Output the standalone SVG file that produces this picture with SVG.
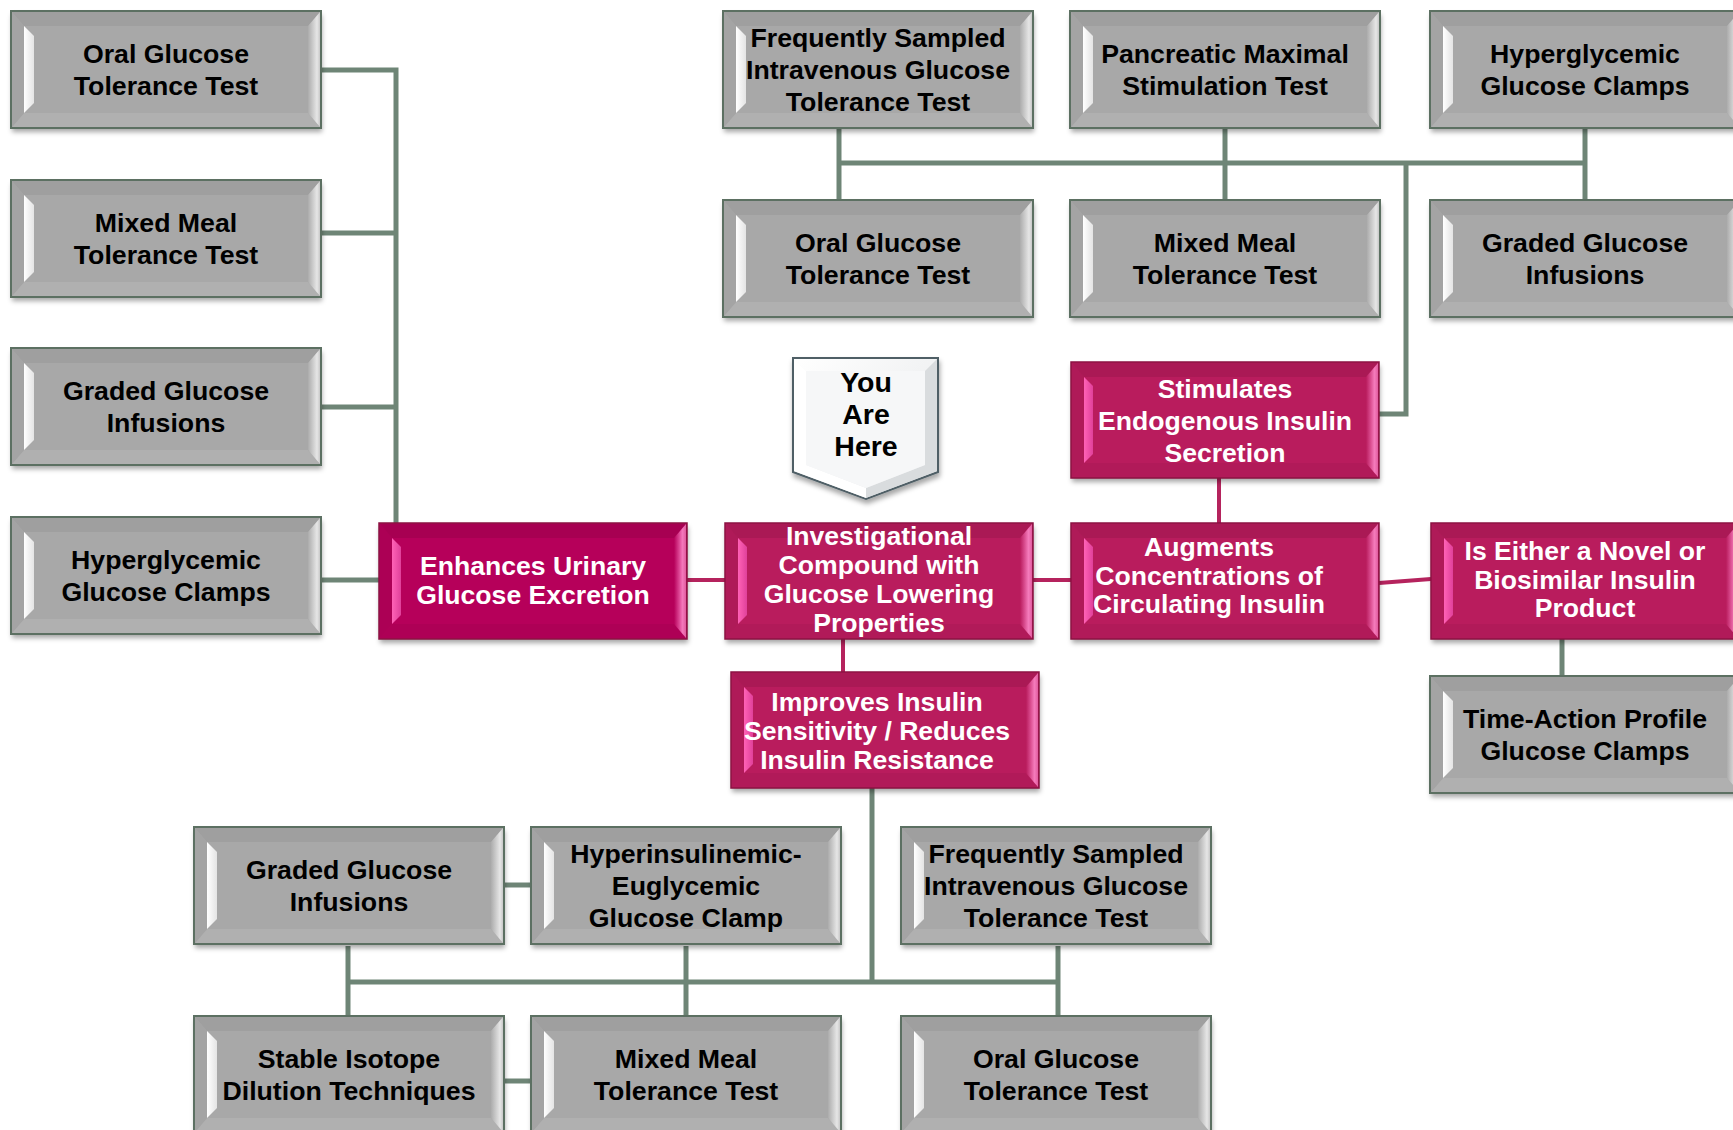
<svg xmlns="http://www.w3.org/2000/svg" width="1733" height="1130" viewBox="0 0 1733 1130">
<style>
.gt{font-family:"Liberation Sans",Arial,sans-serif;font-weight:bold;font-size:26.7px;fill:#000;text-anchor:middle}
.pt{font-family:"Liberation Sans",Arial,sans-serif;font-weight:bold;font-size:26.6px;fill:#fff;text-anchor:middle}
.yt{font-family:"Liberation Sans",Arial,sans-serif;font-weight:bold;font-size:28.5px;fill:#000;text-anchor:middle}
.conn{stroke:#6e8576;stroke-width:5;fill:none}
.pconn{stroke:#b5235d;stroke-width:4;fill:none}
</style>
<defs>
<filter id="sh" x="-5%" y="-10%" width="112%" height="130%">
<feDropShadow dx="1" dy="4" stdDeviation="2.5" flood-color="#000" flood-opacity="0.35"/>
</filter>
<linearGradient id="gR" x1="0" y1="0" x2="1" y2="0">
<stop offset="0" stop-color="#acacac"/><stop offset="0.75" stop-color="#e6e6e6"/><stop offset="1" stop-color="#c8c8c8"/>
</linearGradient>
<linearGradient id="gL" x1="0" y1="0" x2="1" y2="0">
<stop offset="0" stop-color="#ffffff"/><stop offset="1" stop-color="#e4e4e4"/>
</linearGradient>
<linearGradient id="pR" x1="0" y1="0" x2="1" y2="0">
<stop offset="0" stop-color="#ff7cc4" stop-opacity="0"/><stop offset="0.7" stop-color="#ff8ccc" stop-opacity="0.85"/><stop offset="1" stop-color="#e05a9e"/>
</linearGradient>
<linearGradient id="pL" x1="0" y1="0" x2="1" y2="0">
<stop offset="0" stop-color="#ff62b6"/><stop offset="1" stop-color="#e0409a"/>
</linearGradient>
<linearGradient id="yF" x1="0" y1="0" x2="1" y2="1">
<stop offset="0" stop-color="#ffffff"/><stop offset="1" stop-color="#e4e6e8"/>
</linearGradient>
<g id="gbox">
<rect width="310" height="117" fill="#a8a8a8" filter="url(#sh)"/>
<polygon points="1,1 309,1 297,15 13,15" fill="#9f9f9f"/>
<polygon points="1,116 309,116 297,102 13,102" fill="#b0b0b0"/>
<polygon points="1,1 13,15 13,102 1,116" fill="#a4a4a4"/>
<polygon points="309,1 297,15 297,102 309,116" fill="url(#gR)"/>
<polygon points="13,15 23,25 23,92 13,102" fill="url(#gL)"/>
<rect width="310" height="117" fill="none" stroke="#5c7062" stroke-width="2"/>
</g>
<g id="pbox">
<rect width="308" height="116" fill="currentColor" filter="url(#sh)"/>
<polygon points="1,1 307,1 295,15 13,15" fill="#000" fill-opacity="0.08"/>
<polygon points="1,115 307,115 295,101 13,101" fill="#000" fill-opacity="0.04"/>
<polygon points="1,1 13,15 13,101 1,115" fill="#000" fill-opacity="0.05"/>
<polygon points="307,1 295,15 295,101 307,115" fill="url(#pR)"/>
<polygon points="13,15 22,24 22,92 13,101" fill="url(#pL)"/>
<rect width="308" height="116" fill="none" stroke="#8a1242" stroke-width="1.5"/>
</g>
</defs>
<rect width="1733" height="1130" fill="#ffffff"/>

<g id="connectors">
<path class="conn" d="M321 70 H396 V523"/>
<path class="conn" d="M321 233 H396"/>
<path class="conn" d="M321 407 H396"/>
<path class="conn" d="M321 580 H379"/>
<path class="conn" d="M839 128 V200"/>
<path class="conn" d="M1225 128 V200"/>
<path class="conn" d="M1585 128 V200"/>
<path class="conn" d="M839 163 H1585"/>
<path class="conn" d="M1379 414 H1406 V163"/>
<path class="conn" d="M1562 639 V676"/>
<path class="conn" d="M872 788 V982"/>
<path class="conn" d="M348 946 V1016"/>
<path class="conn" d="M686 946 V1016"/>
<path class="conn" d="M1058 946 V1016"/>
<path class="conn" d="M348 982 H1058"/>
<path class="conn" d="M504 885 H531"/>
<path class="conn" d="M504 1081 H531"/>
<path class="pconn" d="M687 580 H725"/>
<path class="pconn" d="M1033 580 H1071"/>
<path class="pconn" d="M1379 583 L1431 579"/>
<path class="pconn" d="M1219 478 V523"/>
<path class="pconn" d="M843 639 V672"/>
</g>

<g id="n-left-ogtt"><use href="#gbox" x="11" y="11"/><text class="gt" x="166" y="62.5">Oral Glucose</text><text class="gt" x="166" y="94.5">Tolerance Test</text></g>
<g id="n-left-mmtt"><use href="#gbox" x="11" y="180"/><text class="gt" x="166" y="231.5">Mixed Meal</text><text class="gt" x="166" y="263.5">Tolerance Test</text></g>
<g id="n-left-ggi"><use href="#gbox" x="11" y="348"/><text class="gt" x="166" y="399.5">Graded Glucose</text><text class="gt" x="166" y="431.5">Infusions</text></g>
<g id="n-left-hgc"><use href="#gbox" x="11" y="517"/><text class="gt" x="166" y="568.5">Hyperglycemic</text><text class="gt" x="166" y="600.5">Glucose Clamps</text></g>

<g id="n-top-fsivgtt"><use href="#gbox" x="723" y="11"/><text class="gt" x="878" y="46.5">Frequently Sampled</text><text class="gt" x="878" y="78.5">Intravenous Glucose</text><text class="gt" x="878" y="110.5">Tolerance Test</text></g>
<g id="n-top-pmst"><use href="#gbox" x="1070" y="11"/><text class="gt" x="1225" y="62.5">Pancreatic Maximal</text><text class="gt" x="1225" y="94.5">Stimulation Test</text></g>
<g id="n-top-hgc"><use href="#gbox" x="1430" y="11"/><text class="gt" x="1585" y="62.5">Hyperglycemic</text><text class="gt" x="1585" y="94.5">Glucose Clamps</text></g>
<g id="n-mid-ogtt"><use href="#gbox" x="723" y="200"/><text class="gt" x="878" y="251.5">Oral Glucose</text><text class="gt" x="878" y="283.5">Tolerance Test</text></g>
<g id="n-mid-mmtt"><use href="#gbox" x="1070" y="200"/><text class="gt" x="1225" y="251.5">Mixed Meal</text><text class="gt" x="1225" y="283.5">Tolerance Test</text></g>
<g id="n-mid-ggi"><use href="#gbox" x="1430" y="200"/><text class="gt" x="1585" y="251.5">Graded Glucose</text><text class="gt" x="1585" y="283.5">Infusions</text></g>

<g id="n-you-are-here">
<polygon points="793,358 938,358 938,472 866,499 793,472" fill="url(#yF)" stroke="#4f5f66" stroke-width="2" filter="url(#sh)"/>
<polygon points="794,359 806,371 806,465 866,488 866,498 794,471" fill="#ffffff"/>
<polygon points="937,359 925,371 925,465 866,488 866,498 937,471" fill="#d9dcde"/>
<polygon points="806,371 925,371 925,465 866,488 806,465" fill="#f6f7f8"/>
<text class="yt" x="866" y="392">You</text><text class="yt" x="866" y="424">Are</text><text class="yt" x="866" y="456">Here</text>
</g>

<g id="n-stimulates"><use href="#pbox" x="1071" y="362" style="color:#b91d5d"/><text class="pt" x="1225" y="398">Stimulates</text><text class="pt" x="1225" y="430">Endogenous Insulin</text><text class="pt" x="1225" y="462">Secretion</text></g>
<g id="n-enhances"><use href="#pbox" x="379" y="523" style="color:#b6005a"/><text class="pt" x="533" y="575">Enhances Urinary</text><text class="pt" x="533" y="604">Glucose Excretion</text></g>
<g id="n-investigational"><use href="#pbox" x="725" y="523" style="color:#b91d5d"/><text class="pt" x="879" y="545">Investigational</text><text class="pt" x="879" y="574">Compound with</text><text class="pt" x="879" y="603">Glucose Lowering</text><text class="pt" x="879" y="631.5">Properties</text></g>
<g id="n-augments"><use href="#pbox" x="1071" y="523" style="color:#b91d5d"/><text class="pt" x="1209" y="556">Augments</text><text class="pt" x="1209" y="584.5">Concentrations of</text><text class="pt" x="1209" y="613">Circulating Insulin</text></g>
<g id="n-is-either"><use href="#pbox" x="1431" y="523" style="color:#b91d5d"/><text class="pt" x="1585" y="560">Is Either a Novel or</text><text class="pt" x="1585" y="588.5">Biosimilar Insulin</text><text class="pt" x="1585" y="617">Product</text></g>
<g id="n-improves"><use href="#pbox" x="731" y="672" style="color:#b91d5d"/><text class="pt" x="877" y="711">Improves Insulin</text><text class="pt" x="877" y="740">Sensitivity / Reduces</text><text class="pt" x="877" y="769">Insulin Resistance</text></g>

<g id="n-time-action"><use href="#gbox" x="1430" y="676"/><text class="gt" x="1585" y="727.5">Time-Action Profile</text><text class="gt" x="1585" y="759.5">Glucose Clamps</text></g>

<g id="n-bot-ggi"><use href="#gbox" x="194" y="827"/><text class="gt" x="349" y="878.5">Graded Glucose</text><text class="gt" x="349" y="910.5">Infusions</text></g>
<g id="n-bot-hegc"><use href="#gbox" x="531" y="827"/><text class="gt" x="686" y="862.5">Hyperinsulinemic-</text><text class="gt" x="686" y="894.5">Euglycemic</text><text class="gt" x="686" y="926.5">Glucose Clamp</text></g>
<g id="n-bot-fsivgtt"><use href="#gbox" x="901" y="827"/><text class="gt" x="1056" y="862.5">Frequently Sampled</text><text class="gt" x="1056" y="894.5">Intravenous Glucose</text><text class="gt" x="1056" y="926.5">Tolerance Test</text></g>
<g id="n-bot-sidt"><use href="#gbox" x="194" y="1016"/><text class="gt" x="349" y="1067.5">Stable Isotope</text><text class="gt" x="349" y="1099.5">Dilution Techniques</text></g>
<g id="n-bot-mmtt"><use href="#gbox" x="531" y="1016"/><text class="gt" x="686" y="1067.5">Mixed Meal</text><text class="gt" x="686" y="1099.5">Tolerance Test</text></g>
<g id="n-bot-ogtt"><use href="#gbox" x="901" y="1016"/><text class="gt" x="1056" y="1067.5">Oral Glucose</text><text class="gt" x="1056" y="1099.5">Tolerance Test</text></g>
</svg>
